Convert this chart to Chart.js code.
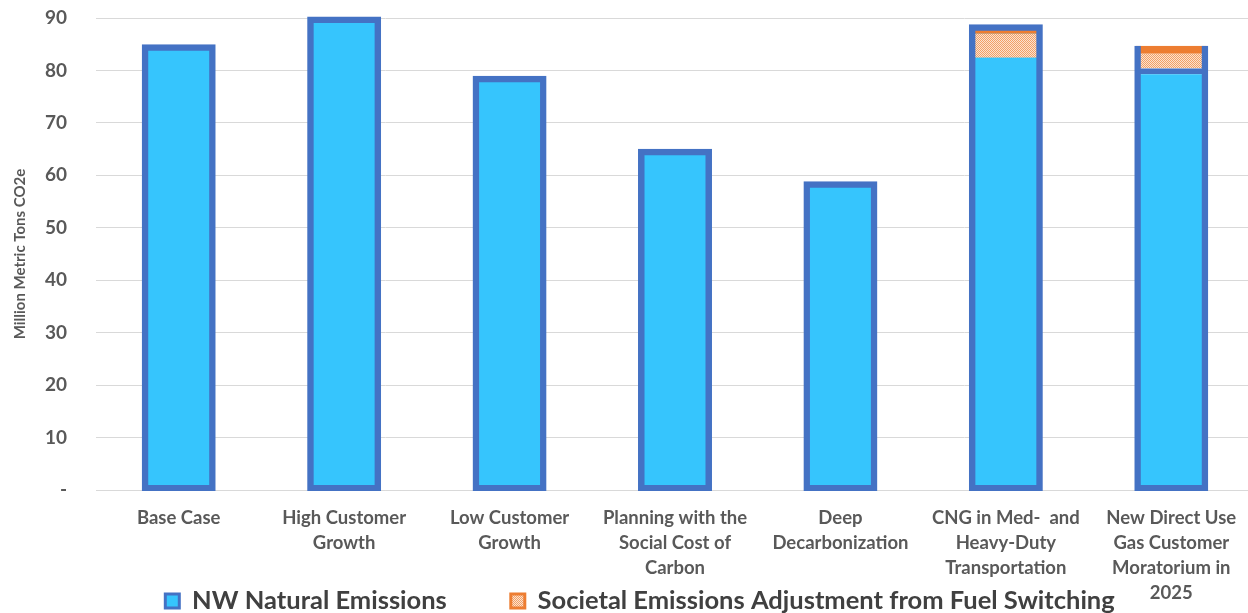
<!DOCTYPE html>
<html>
<head>
<meta charset="utf-8">
<script src="https://cdn.jsdelivr.net/npm/chart.js@4.4.1/dist/chart.umd.min.js"></script>
<style>
  html, body { margin: 0; padding: 0; background: #ffffff; overflow: hidden; }
  #wrap { width: 1248px; height: 613px; overflow: hidden; }
  canvas { display: block; }
</style>
</head>
<body>
<div id="wrap"><canvas id="chart" width="1280" height="613"></canvas></div>
<script>
// Scenario names (multi-line category labels)
const scenarios = [
  ['Base Case'],
  ['High Customer', 'Growth'],
  ['Low Customer', 'Growth'],
  ['Planning with the', 'Social Cost of', 'Carbon'],
  ['Deep', 'Decarbonization'],
  ['CNG in Med-  and', 'Heavy-Duty', 'Transportation'],
  ['New Direct Use', 'Gas Customer', 'Moratorium in', '2025']
];

// Million metric tons CO2e
const nwNaturalEmissions = [84.7, 90.0, 78.7, 64.8, 58.6, 88.5, 80.4];
const fuelSwitchingAdjustment = [0, 0, 0, 0, 0, -6.1, 4.3];

const seriesNames = ['NW Natural Emissions', 'Societal Emissions Adjustment from Fuel Switching'];
const yTickValues = [0, 10, 20, 30, 40, 50, 60, 70, 80, 90];

const FILL_BLUE = '#36C5FD';
const EDGE_BLUE = '#4472C4';
const ORANGE = '#ED7D31';
const TEXT = '#595959';
const FONT = 'Lato, "DejaVu Sans", sans-serif';

const LEGEND_FONT = 25.5;
const LEGEND_GAP = 64;
const LEGEND_MID_Y = 601;

// Fine dotted orange fill for the fuel-switching adjustment
function dotPattern() {
  const c = document.createElement('canvas');
  c.width = 2; c.height = 2;
  const g = c.getContext('2d');
  g.fillStyle = '#FBE2D0';
  g.fillRect(0, 0, 2, 2);
  g.fillStyle = '#F2A066';
  g.fillRect(0, 0, 1, 1);
  g.fillRect(1, 1, 1, 1);
  return g.createPattern(c, 'repeat');
}
const dots = dotPattern();

// Adjustment drawn as a floating segment from the NW value to NW + adjustment
const adjustmentRanges = nwNaturalEmissions.map((v, i) =>
  fuelSwitchingAdjustment[i] === 0 ? null : [v, v + fuelSwitchingAdjustment[i]]);
// Outline around the full extent of each scenario
const scenarioTotals = nwNaturalEmissions.map((v, i) => Math.max(v, v + fuelSwitchingAdjustment[i]));

const BAR_PCT = 0.429;

// The legend sits in the band beside the last, four-line category label
const legendPlacement = {
  id: 'legendPlacement',
  afterLayout(chart) {
    const lg = chart.legend;
    if (!lg) return;
    const h = lg.bottom - lg.top;
    lg.top = LEGEND_MID_Y - LEGEND_GAP - LEGEND_FONT / 2;
    lg.bottom = lg.top + h;
  }
};

new Chart(document.getElementById('chart'), {
  type: 'bar',
  plugins: [legendPlacement],
  data: {
    labels: scenarios,
    datasets: [
      {
        label: seriesNames[0],
        data: nwNaturalEmissions,
        backgroundColor: FILL_BLUE,
        borderColor: EDGE_BLUE,
        borderWidth: (ctx) => ({
          top: fuelSwitchingAdjustment[ctx.dataIndex] > 0 ? 6 : 0,
          bottom: 0, left: 0, right: 0
        }),
        borderSkipped: false,
        inflateAmount: 0,
        barPercentage: BAR_PCT,
        categoryPercentage: 1,
        grouped: false,
        order: 3
      },
      {
        label: seriesNames[1],
        data: adjustmentRanges,
        backgroundColor: dots,
        borderColor: ORANGE,
        borderWidth: { top: 8, bottom: 8, left: 0, right: 0 },
        borderSkipped: 'start',
        inflateAmount: 0,
        barPercentage: BAR_PCT,
        categoryPercentage: 1,
        grouped: false,
        order: 2
      },
      {
        label: 'outline',
        data: scenarioTotals,
        backgroundColor: 'rgba(0,0,0,0)',
        borderColor: EDGE_BLUE,
        borderWidth: (ctx) => ({
          left: 3.5, right: 3.5, bottom: 3,
          top: fuelSwitchingAdjustment[ctx.dataIndex] > 0 ? 0 : 3.5
        }),
        borderSkipped: false,
        inflateAmount: 1.5,
        barPercentage: BAR_PCT,
        categoryPercentage: 1,
        grouped: false,
        clip: false,
        order: 1
      }
    ]
  },
  options: {
    responsive: false,
    animation: false,
    devicePixelRatio: 1,
    layout: { padding: { top: 18, left: 0, right: 0, bottom: 3 - (LEGEND_FONT + LEGEND_GAP + 10) } },
    plugins: {
      tooltip: { enabled: false },
      legend: {
        position: 'bottom',
        labels: {
          color: '#404040',
          font: { family: FONT, size: LEGEND_FONT, weight: 'bold' },
          boxWidth: 14,
          boxHeight: 14,
          padding: LEGEND_GAP,
          generateLabels: () => [
            { text: seriesNames[0], fillStyle: FILL_BLUE, strokeStyle: EDGE_BLUE, lineWidth: 3, datasetIndex: 0, fontColor: '#404040' },
            { text: seriesNames[1], fillStyle: dots, strokeStyle: ORANGE, lineWidth: 3, datasetIndex: 1, fontColor: '#404040' }
          ]
        }
      }
    },
    scales: {
      x: {
        grid: { display: false },
        border: { display: true, color: '#D9D9D9', width: 1 },
        ticks: {
          color: TEXT,
          font: { family: FONT, size: 18.5, weight: 'bold', lineHeight: '25px' },
          maxRotation: 0,
          autoSkip: false,
          padding: 8
        },
        afterFit: (s) => { s.height = 120; }
      },
      y: {
        min: 0,
        max: 90,
        afterBuildTicks: (s) => { s.ticks = yTickValues.map(v => ({ value: v })); },
        grid: { color: '#D9D9D9', lineWidth: 1, drawTicks: true, tickLength: 29, tickColor: 'rgba(0,0,0,0)' },
        border: { display: false },
        ticks: {
          color: TEXT,
          font: { family: FONT, size: 19, weight: 'bold' },
          padding: 0,
          callback: (v) => (v === 0 ? '-' : String(v))
        },
        title: {
          display: true,
          text: 'Million Metric Tons CO2e',
          color: TEXT,
          font: { family: FONT, size: 15, weight: 'bold' },
          padding: { top: 11, bottom: 0 }
        },
        afterFit: (s) => { s.width = 96; }
      },
      yRight: {
        position: 'right',
        display: true,
        min: 0,
        max: 90,
        grid: { display: false, drawTicks: false },
        border: { display: false },
        ticks: { display: false, padding: 0 },
        afterFit: (s) => { s.width = 26; }
      }
    }
  }
});
</script>
</body>
</html>
